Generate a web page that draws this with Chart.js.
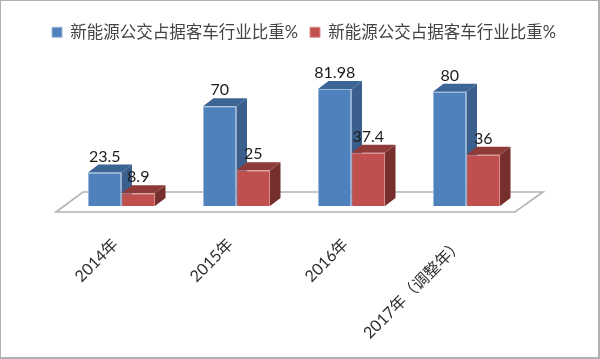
<!DOCTYPE html>
<html>
<head>
<meta charset="utf-8">
<style>
  html, body { margin: 0; padding: 0; background: #fff; }
  #wrap { position: relative; width: 600px; height: 359px; }
  #frame { position: absolute; left: 0; top: 0; width: 597px; height: 356px; border: solid #b0b0b0; border-width: 1px 2px 2px 1px; pointer-events: none; }
</style>
<script src="https://cdn.jsdelivr.net/npm/chart.js@4"></script>
</head>
<body>
<div id="wrap">
  <canvas id="busChart" width="600" height="359"></canvas>
  <div id="frame"></div>
</div>
<script>
const categories = ['2014年', '2015年', '2016年', '2017年（调整年）'];
const seriesName = '新能源公交占据客车行业比重%';
const blueValues = [23.5, 70, 81.98, 80];
const redValues = [8.9, 25, 37.4, 36];

const DEPTH_X = 10.5;
const DEPTH_Y = 8;
const FONT = 'Lato, "Noto Sans CJK SC", sans-serif';
const shades = [
  { top: '#3a6595', side: '#3b5f8c' },
  { top: '#8e3a38', side: '#772f2d' }
];

// draws the floor and the side/top faces behind every bar
const depthPlugin = {
  id: 'depth',
  beforeDatasetsDraw(chart) {
    const { ctx, scales } = chart;
    const base = scales.y.getPixelForValue(0);
    const left = scales.x.left;
    const right = scales.x.right;

    ctx.save();
    ctx.strokeStyle = '#b3b3b3';
    ctx.lineWidth = 1.6;
    ctx.beginPath();
    ctx.moveTo(left - 8, base + 6);
    ctx.lineTo(left + 19, base - 14);
    ctx.lineTo(right + 19, base - 14);
    ctx.lineTo(right - 9, base + 6);
    ctx.closePath();
    ctx.stroke();

    chart.data.datasets.forEach((ds, i) => {
      chart.getDatasetMeta(i).data.forEach(bar => {
        const x0 = bar.x - bar.width / 2;
        const x1 = bar.x + bar.width / 2;
        ctx.fillStyle = shades[i].side;
        ctx.beginPath();
        ctx.moveTo(x1, bar.y);
        ctx.lineTo(x1 + DEPTH_X, bar.y - DEPTH_Y);
        ctx.lineTo(x1 + DEPTH_X, base - DEPTH_Y);
        ctx.lineTo(x1, base);
        ctx.closePath();
        ctx.fill();
        ctx.fillStyle = shades[i].top;
        ctx.beginPath();
        ctx.moveTo(x0, bar.y);
        ctx.lineTo(x0 + DEPTH_X, bar.y - DEPTH_Y);
        ctx.lineTo(x1 + DEPTH_X, bar.y - DEPTH_Y);
        ctx.lineTo(x1, bar.y);
        ctx.closePath();
        ctx.fill();
      });
    });
    ctx.restore();
  },
  afterDatasetsDraw(chart) {
    const { ctx } = chart;
    ctx.save();
    ctx.font = '16px ' + FONT;
    ctx.fillStyle = '#1c1c1c';
    ctx.textAlign = 'center';
    ctx.textBaseline = 'middle';
    chart.data.datasets.forEach((ds, i) => {
      chart.getDatasetMeta(i).data.forEach((bar, j) => {
        ctx.fillText(String(ds.data[j]), bar.x, bar.y - 16);
      });
    });
    ctx.restore();
  }
};

new Chart(document.getElementById('busChart'), {
  type: 'bar',
  data: {
    labels: categories,
    datasets: [
      { label: seriesName, data: blueValues, backgroundColor: '#4f81bd', borderColor: '#9db9dc', borderWidth: 1 },
      { label: seriesName, data: redValues, backgroundColor: '#c0504d', borderColor: '#d98f8d', borderWidth: 1 }
    ]
  },
  options: {
    responsive: false,
    animation: false,
    layout: { padding: { left: 8, right: 0, top: 12, bottom: 0 } },
    datasets: { bar: { categoryPercentage: 0.583, barPercentage: 1 } },
    plugins: {
      tooltip: { enabled: false },
      legend: {
        position: 'top',
        labels: {
          boxWidth: 10,
          boxHeight: 10,
          padding: 12,
          color: '#444',
          font: { size: 16.5, family: FONT }
        }
      }
    },
    scales: {
      x: {
        grid: { display: false },
        border: { display: false },
        ticks: {
          autoSkip: false,
          minRotation: 45,
          maxRotation: 45,
          padding: 21,
          labelOffset: -6,
          color: '#2e2e2e',
          font: { size: 16, family: FONT }
        },
        afterFit(scale) { scale.height = 153; }
      },
      y: {
        min: 0,
        max: 109,
        grid: { display: false },
        border: { display: false },
        ticks: { display: false },
        afterFit(scale) { scale.width = 56; }
      },
      right: {
        axis: 'y',
        position: 'right',
        grid: { display: false },
        border: { display: false },
        ticks: { display: false },
        afterFit(scale) { scale.width = 76; }
      }
    }
  },
  plugins: [depthPlugin]
});
</script>
</body>
</html>
